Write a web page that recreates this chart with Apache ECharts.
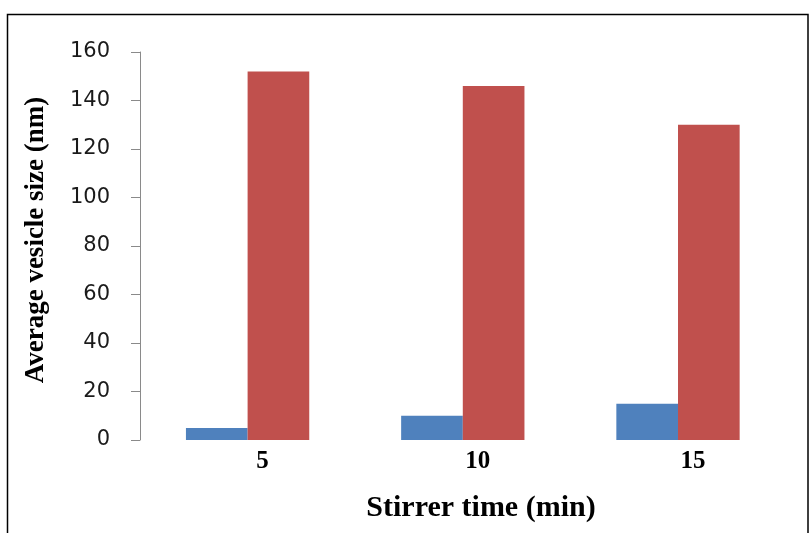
<!DOCTYPE html>
<html>
<head>
<meta charset="utf-8">
<script src="https://cdn.jsdelivr.net/npm/echarts@6/dist/echarts.min.js"></script>
<style>
  html, body { margin: 0; padding: 0; background: #fff; }
  #chart { width: 809px; height: 533px; }
</style>
</head>
<body>
<div id="chart"></div>
<script>
// Stirrer time categories (min)
const categories = ['5', '10', '15'];
// Average vesicle size (nm) per stirrer time
const seriesBlue = [5, 10, 15];
const seriesRed = [152, 146, 130];
// Y axis range
const yMin = 0;
const yMax = 160;
const yStep = 20;

const xTitle = 'Stirrer time (min)';
const yTitle = 'Average vesicle size (nm)';

const chart = echarts.init(document.getElementById('chart'), null, { renderer: 'canvas' });

const serif = '"Liberation Serif", "Times New Roman", serif';

chart.setOption({
  backgroundColor: '#ffffff',
  animation: false,
  grid: { left: 140, right: 23.4, top: 52, bottom: 93, containLabel: false },
  xAxis: {
    type: 'category',
    data: categories,
    axisLine: { show: false },
    axisTick: { show: false },
    axisLabel: {
      margin: 9,
      padding: [0, 0, 0, 30],
      fontFamily: serif,
      fontWeight: 'bold',
      fontSize: 25,
      color: '#000'
    },
    splitLine: { show: false }
  },
  yAxis: {
    type: 'value',
    min: yMin,
    max: yMax,
    interval: yStep,
    axisLine: { show: true, lineStyle: { color: '#8a8a8a', width: 1 } },
    axisTick: { show: true, inside: false, length: 9, lineStyle: { color: '#8a8a8a' } },
    axisLabel: {
      margin: 30,
      fontFamily: '"DejaVu Sans", Verdana, sans-serif',
      fontSize: 21,
      color: '#1a1a1a'
    },
    splitLine: { show: false }
  },
  series: [
    {
      type: 'bar',
      data: seriesBlue,
      barGap: '0%',
      barCategoryGap: '42.7%',
      itemStyle: { color: '#4F81BD' }
    },
    {
      type: 'bar',
      data: seriesRed,
      barGap: '0%',
      barCategoryGap: '42.7%',
      itemStyle: { color: '#C0504D' }
    }
  ],
  graphic: [
    {
      type: 'rect',
      shape: { x: 7.5, y: 14.5, width: 800.5, height: 530 },
      style: { fill: 'none', stroke: '#000', lineWidth: 1.5 },
      z: 10
    },
    {
      type: 'text',
      x: 481,
      y: 508,
      style: {
        text: xTitle,
        font: 'bold 30px ' + serif,
        fill: '#000',
        align: 'center',
        verticalAlign: 'middle',
        textAlign: 'center',
        textVerticalAlign: 'middle'
      }
    },
    {
      type: 'text',
      x: 36,
      y: 240,
      rotation: Math.PI / 2,
      style: {
        text: yTitle,
        font: 'bold 27px ' + serif,
        fill: '#000',
        align: 'center',
        verticalAlign: 'middle',
        textAlign: 'center',
        textVerticalAlign: 'middle'
      }
    }
  ]
});
</script>
</body>
</html>
